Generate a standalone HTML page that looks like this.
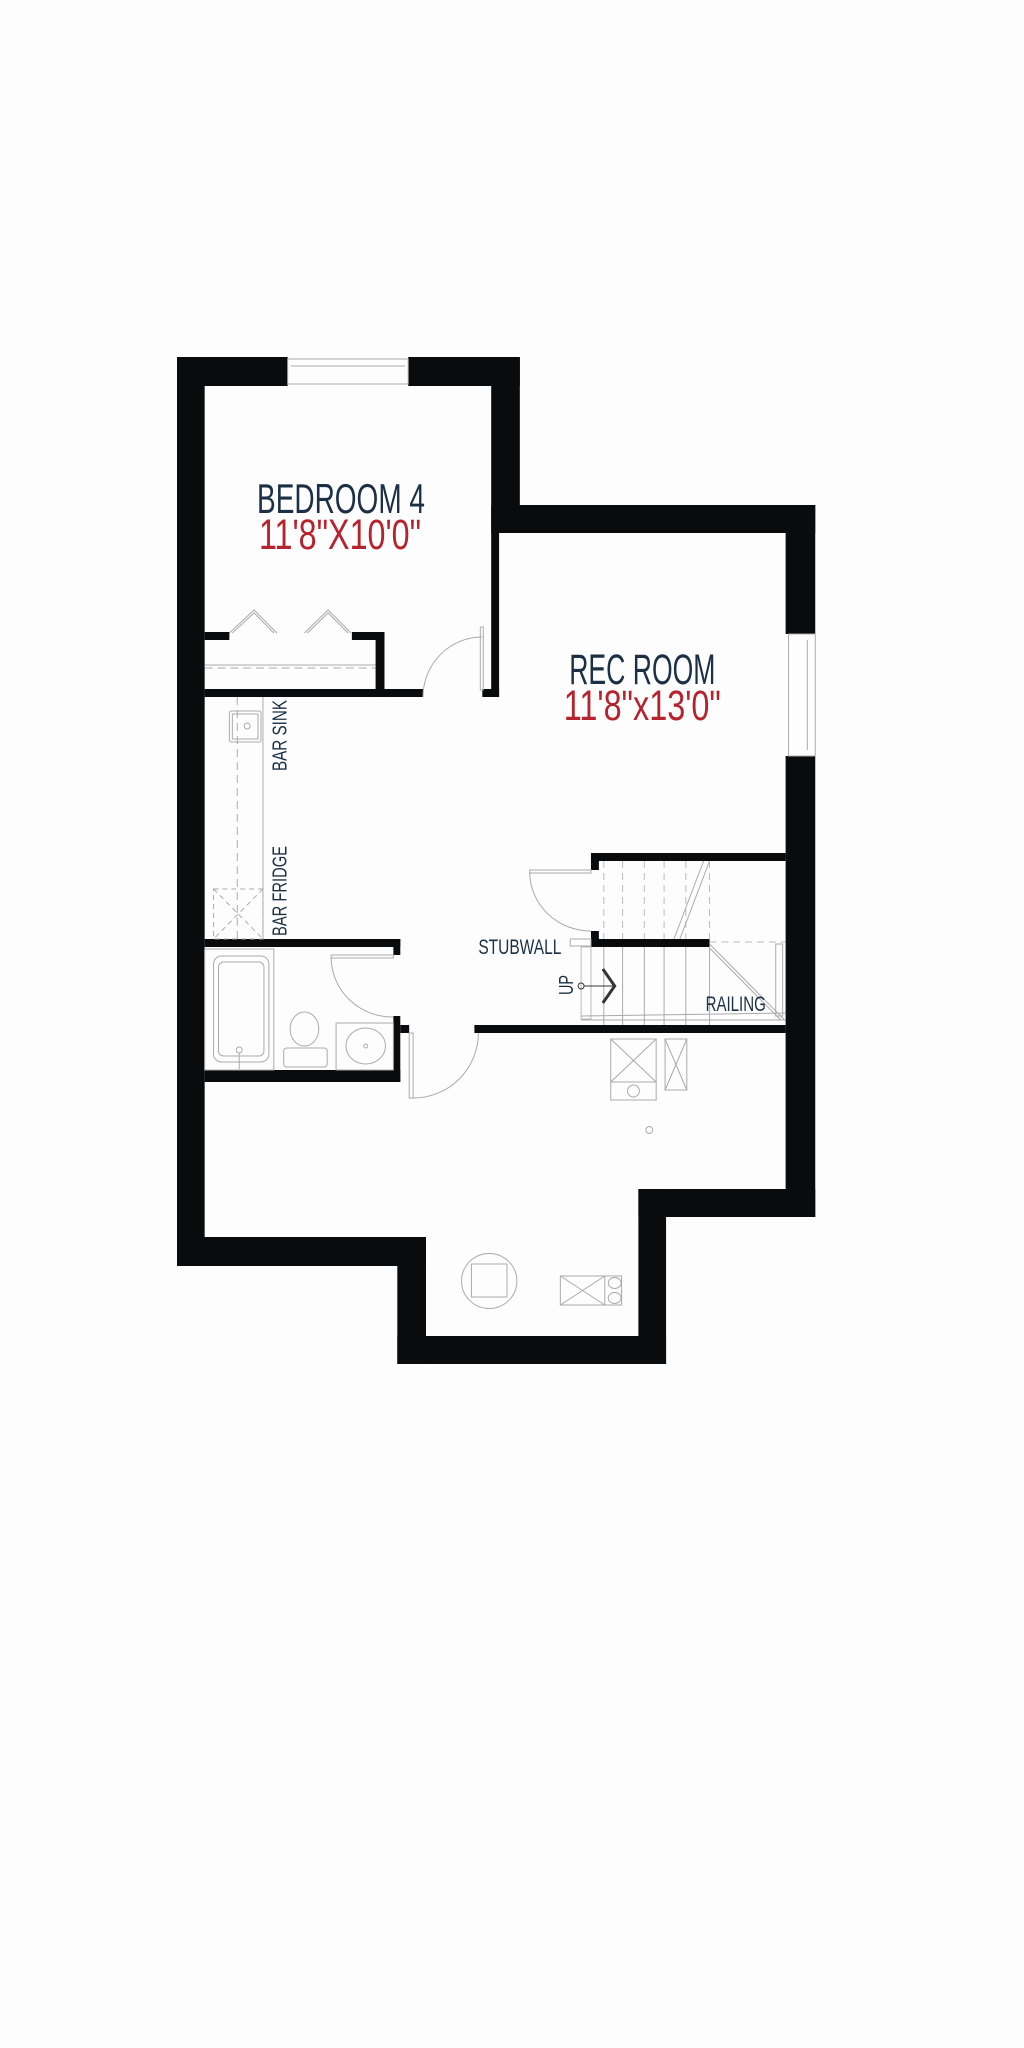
<!DOCTYPE html>
<html><head><meta charset="utf-8"><style>
html,body{margin:0;padding:0;background:#fdfdfd;}
svg{display:block;}
text{font-family:"Liberation Sans Narrow","Liberation Sans",sans-serif;}
</style></head><body>
<svg width="1024" height="2048" viewBox="0 0 1024 2048" xmlns="http://www.w3.org/2000/svg">
<rect width="1024" height="2048" fill="#fdfdfd"/>
<g transform="translate(177,0) scale(0.988,1) translate(-177,0)">
<g fill="#0a0b0c">
<rect x="177" y="357" width="112" height="29"/>
<rect x="411" y="357" width="113" height="29"/>
<rect x="177" y="357" width="28" height="909"/>
<rect x="495" y="357" width="29" height="176"/>
<rect x="495" y="533" width="8" height="164"/>
<rect x="495" y="505" width="328" height="28"/>
<rect x="793" y="505" width="30" height="129"/>
<rect x="793" y="756" width="30" height="461"/>
<rect x="644" y="1189" width="179" height="28"/>
<rect x="644" y="1189" width="28" height="175"/>
<rect x="400" y="1336" width="272" height="28"/>
<rect x="400" y="1237" width="29" height="127"/>
<rect x="177" y="1237" width="252" height="29"/>
<rect x="205" y="689" width="221" height="8"/>
<rect x="486" y="689" width="17" height="8"/>
<rect x="205" y="632" width="25" height="8"/>
<rect x="354" y="632" width="33" height="8"/>
<rect x="378" y="632" width="9" height="65"/>
<rect x="205" y="939" width="198" height="8"/>
<rect x="396" y="939" width="7" height="16"/>
<rect x="396" y="1016" width="7" height="66"/>
<rect x="403" y="1025" width="9" height="8"/>
<rect x="205" y="1070" width="198" height="12"/>
<rect x="478" y="1025" width="315" height="8"/>
<rect x="596" y="853" width="197" height="8"/>
<rect x="596" y="853" width="8" height="17"/>
<rect x="596" y="939" width="120" height="8"/>
<rect x="596" y="931" width="8" height="16"/>
</g>
<g fill="none" stroke="#aaa" stroke-width="1">
<rect x="289" y="359" width="122" height="25"/>
<line x1="292" y1="366" x2="408" y2="366"/>
<rect x="796" y="634" width="27" height="122"/>
<line x1="815" y1="640" x2="815" y2="750"/>
<polyline points="230,633 255,610 278,633"/>
<polyline points="233,633 255,613 275,633"/>
<polyline points="306,633 330,610 353,633"/>
<polyline points="309,633 330,613 350,633"/>
<line x1="205" y1="665" x2="378" y2="665"/>
<line x1="205" y1="668" x2="378" y2="668" stroke-dasharray="8,5"/>
<rect x="484" y="627" width="3" height="63"/>
<path d="M426,697 A60,60 0 0 1 486,637"/>
<line x1="238" y1="697" x2="238" y2="939" stroke-dasharray="8,5"/>
<line x1="264" y1="697" x2="264" y2="939"/>
<rect x="230" y="711" width="32" height="31" rx="2"/>
<rect x="233" y="714" width="26" height="25"/>
<circle cx="248" cy="726" r="3"/>
<rect x="214" y="889" width="50" height="50" stroke-dasharray="5,4"/>
<line x1="214" y1="889" x2="264" y2="939" stroke-dasharray="5,4"/>
<line x1="264" y1="889" x2="214" y2="939" stroke-dasharray="5,4"/>
<rect x="205" y="949" width="70" height="121"/>
<rect x="214" y="956" width="56" height="106" rx="8"/>
<rect x="219" y="962" width="46" height="94" rx="5"/>
<ellipse cx="306" cy="1029" rx="14.5" ry="17"/>
<rect x="285" y="1048" width="44" height="19" rx="3"/>
<rect x="338" y="1023" width="58" height="47"/>
<ellipse cx="368" cy="1046" rx="20" ry="18"/>
<circle cx="368" cy="1046" r="2"/>
<circle cx="240" cy="1050" r="3"/>
<line x1="240" y1="1053" x2="240" y2="1069"/>
<rect x="333" y="955" width="63" height="3"/>
<path d="M333,957 A62,60 0 0 0 396,1017"/>
<rect x="412" y="1033" width="4" height="65"/>
<path d="M416,1098 A66,65 0 0 0 482,1033"/>
<rect x="534" y="870" width="62" height="3"/>
<path d="M534,872 A62,59 0 0 0 596,931"/>
<g stroke-dasharray="7,5" stroke="#bbb">
<line x1="609" y1="861" x2="609" y2="939"/>
<line x1="628" y1="861" x2="628" y2="939"/>
<line x1="650" y1="861" x2="650" y2="939"/>
<line x1="670" y1="861" x2="670" y2="939"/>
<line x1="692" y1="861" x2="692" y2="939"/>
<line x1="716" y1="861" x2="716" y2="939"/>
<line x1="716" y1="942" x2="793" y2="942"/>
</g>
<line x1="680" y1="939" x2="710" y2="861"/>
<line x1="686" y1="939" x2="716" y2="861"/>
<rect x="586" y="947" width="10" height="72" stroke="#bbb"/>
<line x1="586" y1="1016" x2="793" y2="1013"/>
<line x1="586" y1="1020" x2="793" y2="1020"/>
<line x1="609" y1="947" x2="609" y2="1025"/>
<line x1="628" y1="947" x2="628" y2="1025"/>
<line x1="650" y1="947" x2="650" y2="1025"/>
<line x1="670" y1="947" x2="670" y2="1025"/>
<line x1="692" y1="947" x2="692" y2="1025"/>
<line x1="716" y1="947" x2="716" y2="1025"/>
<line x1="716" y1="944" x2="792" y2="1020"/>
<line x1="716" y1="948" x2="788" y2="1020"/>
<rect x="783" y="944" width="7" height="72"/>
<rect x="575" y="939" width="21" height="7"/>
<rect x="616" y="1039" width="46" height="43"/>
<line x1="616" y1="1039" x2="662" y2="1082"/>
<line x1="662" y1="1039" x2="616" y2="1082"/>
<rect x="616" y="1082" width="46" height="18"/>
<circle cx="639" cy="1091" r="6"/>
<rect x="671" y="1039" width="22" height="51"/>
<line x1="671" y1="1039" x2="693" y2="1090"/>
<line x1="693" y1="1039" x2="671" y2="1090"/>
<circle cx="655" cy="1130" r="3.5"/>
<ellipse cx="493" cy="1281" rx="28" ry="27.5"/>
<rect x="475" y="1264" width="36" height="33"/>
<rect x="565" y="1276" width="62" height="29"/>
<line x1="610" y1="1276" x2="610" y2="1305"/>
<line x1="565" y1="1276" x2="610" y2="1305"/>
<line x1="610" y1="1276" x2="565" y2="1305"/>
<ellipse cx="620" cy="1283" rx="6.5" ry="5.5"/>
<ellipse cx="620" cy="1298" rx="6.5" ry="5.5"/>
</g>
<circle cx="586" cy="986" r="3" fill="none" stroke="#333"/>
<line x1="589" y1="986" x2="619" y2="986" stroke="#333"/>
<polyline points="608,969 620,986 608,1003" fill="none" stroke="#333" stroke-width="3"/>
<text x="343" y="513" font-size="42" fill="#1b3045" text-anchor="middle" textLength="170" lengthAdjust="spacingAndGlyphs">BEDROOM 4</text>
<text x="342" y="549" font-size="43" fill="#b5232f" text-anchor="middle" textLength="164" lengthAdjust="spacingAndGlyphs">11'8"X10'0"</text>
<text x="648" y="684" font-size="43" fill="#1b3045" text-anchor="middle" textLength="148" lengthAdjust="spacingAndGlyphs">REC ROOM</text>
<text x="648" y="720" font-size="43" fill="#b5232f" text-anchor="middle" textLength="159" lengthAdjust="spacingAndGlyphs">11'8"x13'0"</text>
<text transform="translate(288,771) rotate(-90)" font-size="21" fill="#1b3045" textLength="71" lengthAdjust="spacingAndGlyphs">BAR SINK</text>
<text transform="translate(288,936) rotate(-90)" font-size="21" fill="#1b3045" textLength="90" lengthAdjust="spacingAndGlyphs">BAR FRIDGE</text>
<text x="482" y="954" font-size="21" fill="#1b3045" textLength="84" lengthAdjust="spacingAndGlyphs">STUBWALL</text>
<text x="712" y="1011" font-size="21" fill="#1b3045" textLength="61" lengthAdjust="spacingAndGlyphs">RAILING</text>
<text transform="translate(578,995) rotate(-90)" font-size="21" fill="#1b3045" textLength="20" lengthAdjust="spacingAndGlyphs">UP</text>
</g>
</svg>
</body></html>
